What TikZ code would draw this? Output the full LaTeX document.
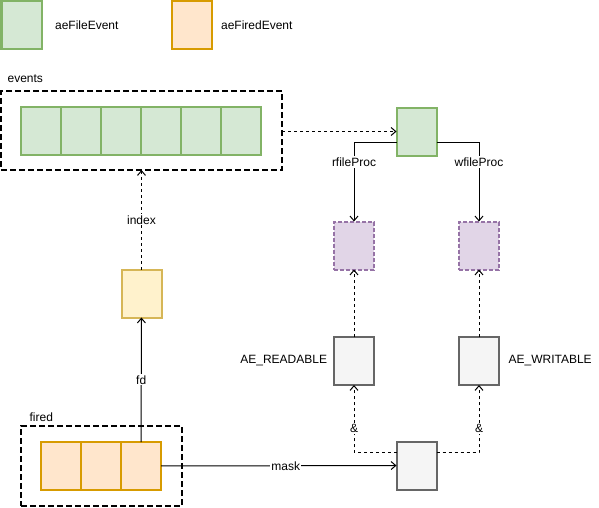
\documentclass[tikz,border=0pt]{standalone}
\usepackage{fontspec}
\setmainfont{Liberation Sans}
\usepackage{tikz}
\usetikzlibrary{arrows.meta,positioning}
\usepackage{xcolor}

\definecolor{filefill}{HTML}{D5E8D4}
\definecolor{fileline}{HTML}{82B366}
\definecolor{firedfill}{HTML}{FFE6CC}
\definecolor{firedline}{HTML}{D79B00}
\definecolor{fdfill}{HTML}{FFF2CC}
\definecolor{fdline}{HTML}{D6B656}
\definecolor{procfill}{HTML}{E1D5E7}
\definecolor{procline}{HTML}{9673A6}
\definecolor{maskfill}{HTML}{F5F5F5}
\definecolor{maskline}{HTML}{666666}

\begin{document}
\begin{tikzpicture}[
    x=0.75pt,y=-0.75pt,
    node distance=0pt,
    font=\fontsize{9}{11}\selectfont,
    cell/.style={rectangle,draw,line width=1.5pt,outer sep=0pt,inner sep=0pt,
                 minimum width=30pt,minimum height=36pt},
    fileev/.style={cell,draw=fileline,fill=filefill},
    firedev/.style={cell,draw=firedline,fill=firedfill},
    fdcell/.style={cell,draw=fdline,fill=fdfill},
    proccell/.style={cell,draw=procline,fill=procfill,dash pattern=on 3pt off 1.5pt},
    maskcell/.style={cell,draw=maskline,fill=maskfill},
    group/.style={rectangle,draw,line width=1.5pt,outer sep=0pt,dash pattern=on 4.5pt off 2.25pt},
    txt/.style={inner sep=1pt},
    lbl/.style={fill=white,inner sep=1pt},
    solarr/.style={-{Straight Barb[length=3.5pt,width=6pt]},black,line width=0.75pt},
    dasharr/.style={solarr,dash pattern=on 2.25pt off 2.25pt}
  ]
    \useasboundingbox (0,0) rectangle (599,507);

    % legend
    \node[fileev] (lgfile) at (21.5,25) {};
    \node[txt,right=9pt of lgfile] (lgfiletxt) {aeFileEvent};
    \node[firedev] (lgfired) at (191.5,25) {};
    \node[txt,right=6pt of lgfired] (lgfiredtxt) {aeFiredEvent};

    % events array
    \node[group,minimum width=210.75pt,minimum height=59.25pt] (events) at (141.5,130.5) {};
    \node[txt,anchor=west] (eventstxt) at (6,79) {events};
    \node[fileev] (e1) at (41,131) {};
    \node[fileev,right=of e1] (e2) {};
    \node[fileev,right=of e2] (e3) {};
    \node[fileev,right=of e3] (e4) {};
    \node[fileev,right=of e4] (e5) {};
    \node[fileev,right=of e5] (e6) {};

    % fired array
    \node[group,minimum width=120.75pt,minimum height=60pt] (fired) at (101.5,466) {};
    \node[txt,anchor=west] (firedtxt) at (28,417) {fired};
    \node[firedev] (f1) at (61,466) {};
    \node[firedev,right=of f1] (f2) {};
    \node[firedev,right=of f2] (f3) {};

    \node[fdcell] (fdbox) at (141.5,293.5) {};
    \node[fileev] (fev) at (416.5,131.5) {};
    \node[proccell] (rproc) at (354,245.5) {};
    \node[proccell] (wproc) at (479,245.5) {};
    \node[maskcell] (rd) at (354,361) {};
    \node[maskcell] (wr) at (479,361) {};
    \node[maskcell] (mk) at (416.5,465.5) {};
    \node[txt,left=4pt of rd] (rdtxt) {AE\_READABLE};
    \node[txt,right=6pt of wr] (wrtxt) {AE\_WRITABLE};

    % connectors
    \draw[dasharr] (events.east |- fev.west) -- (fev.west);
    \draw[solarr] ([yshift=-8.6pt]fev.west) -| node[lbl,pos=0.62] {rfileProc} (rproc);
    \draw[solarr] ([yshift=-8.6pt]fev.east) -| node[lbl,pos=0.62] {wfileProc} (wproc);
    \draw[dasharr] (rd) -- (rproc);
    \draw[dasharr] (wr) -- (wproc);
    \draw[dasharr] ([yshift=9.4pt]mk.west) -| node[lbl,pos=0.68] {\&} (rd);
    \draw[dasharr] ([yshift=9.4pt]mk.east) -| node[lbl,pos=0.68] {\&} (wr);
    \draw[solarr] (f3) -- node[lbl,pos=0.53] {mask} (mk);
    \draw[solarr] (f3) -- node[lbl] {fd} (fdbox);
    \draw[dasharr] (fdbox) -- node[lbl] {index} (events);
  \end{tikzpicture}
\end{document}
